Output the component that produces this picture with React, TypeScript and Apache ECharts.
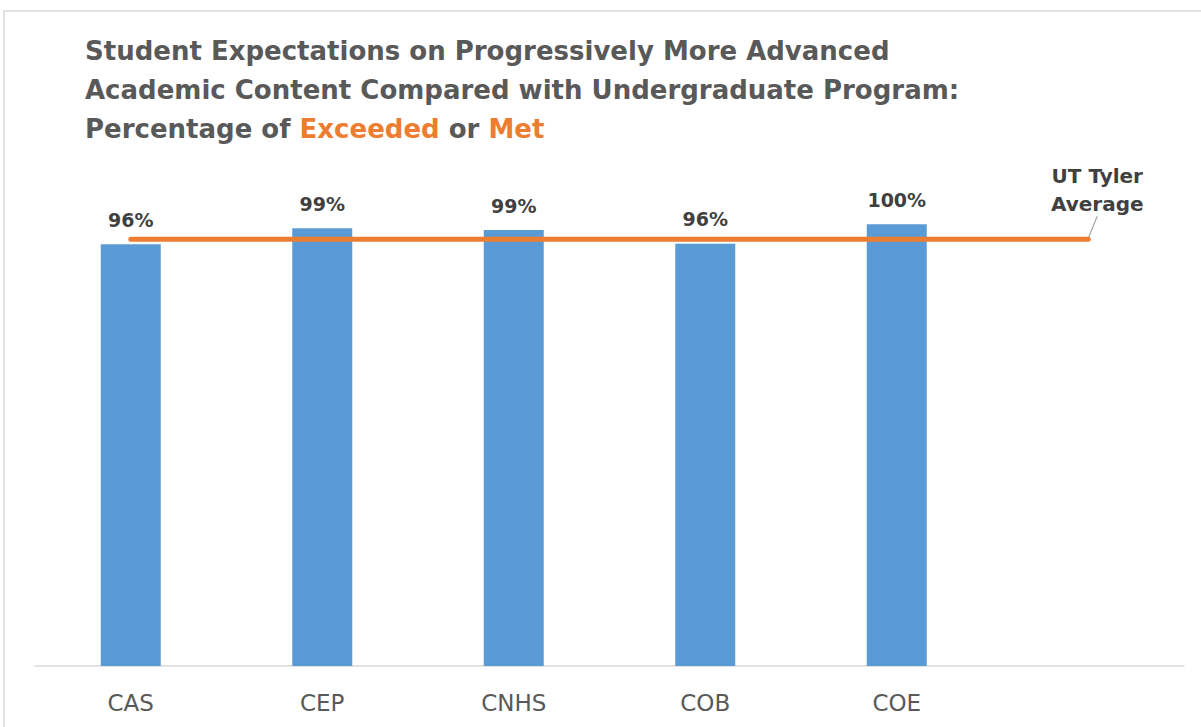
import React, { useEffect, useRef } from "react";
import * as echarts from "echarts";

const categories = ["CAS", "CEP", "CNHS", "COB", "COE", ""];
const percentValues = [95.5, 99.1, 98.7, 95.6, 100];
const averageValue = 96.6;
const averageSeries = categories.map(() => averageValue);
const averageLabel = "UT Tyler\nAverage";
const titleLines = [
  "Student Expectations on Progressively More Advanced",
  "Academic Content Compared with Undergraduate Program:",
  "Percentage of {o|Exceeded} or {o|Met}",
];

const FONT = "DejaVu Sans";

export default function App() {
  const ref = useRef<HTMLDivElement>(null);
  useEffect(() => {
    if (!ref.current) return;
    const chart = echarts.init(ref.current, undefined, { renderer: "svg" });
    const lastIdx = categories.length - 1;
    chart.setOption({
      animation: false,
      backgroundColor: "#ffffff",
      title: {
        text: titleLines.join("\n"),
        left: 85,
        top: 31,
        padding: 0,
        textStyle: {
          fontFamily: FONT,
          fontWeight: "bold",
          fontSize: 26,
          lineHeight: 39,
          color: "#595959",
          rich: {
            o: {
              fontFamily: FONT,
              fontWeight: "bold",
              fontSize: 26,
              lineHeight: 39,
              color: "#ED7D31",
            },
          },
        },
      },
      grid: { left: 35, right: 17, top: 136, bottom: 61 },
      xAxis: {
        type: "category",
        data: categories,
        boundaryGap: true,
        axisTick: { show: false },
        axisLine: { lineStyle: { color: "#d9d9d9", width: 1.5 } },
        axisLabel: {
          margin: 25,
          fontFamily: FONT,
          fontSize: 23,
          color: "#595959",
        },
      },
      yAxis: {
        type: "value",
        min: 0,
        max: 120,
        show: false,
        splitLine: { show: false },
      },
      series: [
        {
          type: "bar",
          data: percentValues,
          barWidth: 60,
          itemStyle: { color: "#5B9BD5" },
          label: {
            show: true,
            position: "top",
            distance: 15,
            formatter: (p: any) => Math.round(p.value) + "%",
            fontFamily: FONT,
            fontWeight: "bold",
            fontSize: 19,
            color: "#404040",
          },
          z: 2,
        },
        {
          type: "line",
          data: averageSeries.map((v, i) =>
            i === lastIdx
              ? {
                  value: v,
                  label: {
                    show: true,
                    position: "top",
                    distance: 21,
                    offset: [9, 0],
                    formatter: averageLabel,
                    fontFamily: FONT,
                    fontWeight: "bold",
                    fontSize: 20,
                    lineHeight: 28,
                    color: "#404040",
                  },
                }
              : v
          ),
          symbol: "circle",
          symbolSize: 0,
          showSymbol: true,
          lineStyle: { color: "#ED7D31", width: 5, cap: "round" },
          itemStyle: { color: "#ED7D31" },
          label: { show: false },
          z: 3,
        },
      ],
    });
    const p = chart.convertToPixel({ gridIndex: 0 }, [lastIdx, averageValue]) as number[];
    chart.setOption({
      graphic: [
        {
          type: "rect",
          shape: { x: 4, y: 11, width: 1400, height: 900 },
          style: { fill: "none", stroke: "#d9d9d9", lineWidth: 1.5 },
          silent: true,
          z: -1,
        },
        {
          type: "line",
          shape: { x1: p[0], y1: p[1] - 1, x2: p[0] + 9, y2: p[1] - 23 },
          style: { stroke: "#a6a6a6", lineWidth: 1.2 },
          silent: true,
        },
      ],
    });
    return () => chart.dispose();
  }, []);
  return (
    <div
      ref={ref}
      style={{ position: "fixed", left: 0, top: 0, width: 1201, height: 727 }}
    />
  );
}
